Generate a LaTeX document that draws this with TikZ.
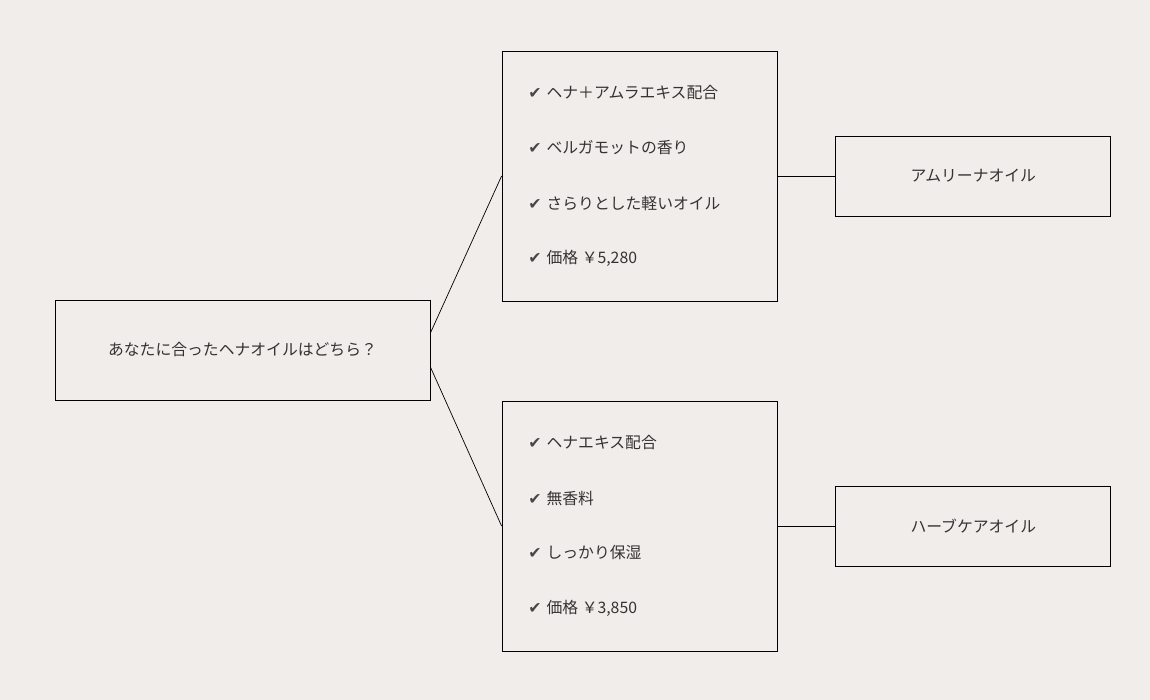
\documentclass[tikz,border=0pt]{standalone}
\usepackage{fontspec}
\setmainfont{Noto Sans CJK JP}
\newfontfamily\symfont{DejaVu Sans}
\usetikzlibrary{positioning}
\definecolor{paper}{HTML}{F1EDEA}
\definecolor{ink}{HTML}{333333}
\tikzset{
  box/.style={draw, line width=0.5pt, inner sep=0pt, font=\fontsize{9}{11}\selectfont, text=ink},
  item/.style={anchor=west, inner sep=0pt, font=\fontsize{9}{11}\selectfont, text=ink},
}
\newcommand{\chk}{{\symfont\color{ink!90}\ding}}
\newcommand{\tick}{{\symfont\textcolor{ink!90}{✔}}\hspace{0.1cm}}
\begin{document}
\begin{tikzpicture}[x=0.02cm,y=-0.02cm]
    \fill[paper] (0,0) rectangle (1150,700);
    \useasboundingbox (0,0) rectangle (1150,700);
    %Question
    \node[box, minimum width=7.5cm, minimum height=2cm] (q) at (242.5,350) {あなたに合ったヘナオイルはどちら？};
    %Features
    \node[box, minimum width=5.5cm, minimum height=5cm] (fa) at (639.5,176) {};
    \node[box, minimum width=5.5cm, minimum height=5cm] (fb) at (639.5,526) {};
    \node[item] (a1) at (528,93) {\tick ヘナ＋アムラエキス配合};
    \node[item] (a2) at (528,148) {\tick ベルガモットの香り};
    \node[item] (a3) at (528,203) {\tick さらりとした軽いオイル};
    \node[item] (a4) at (528,258) {\tick 価格 ￥5,280};
    \node[item] (b1) at (528,443) {\tick ヘナエキス配合};
    \node[item] (b2) at (528,498) {\tick 無香料};
    \node[item] (b3) at (528,553) {\tick しっかり保湿};
    \node[item] (b4) at (528,608) {\tick 価格 ￥3,850};
    %Products
    \node[box, minimum width=5.5cm, minimum height=1.6cm, right=1.16cm of fa] (pa) {アムリーナオイル};
    \node[box, minimum width=5.5cm, minimum height=1.6cm, right=1.16cm of fb] (pb) {ハーブケアオイル};
    %links
    \draw (q.east |- 0,333) -- (fa.west);
    \draw (q.east |- 0,367) -- (fb.west);
    \draw (fa) -- (pa);
    \draw (fb) -- (pb);
\end{tikzpicture}
\end{document}
